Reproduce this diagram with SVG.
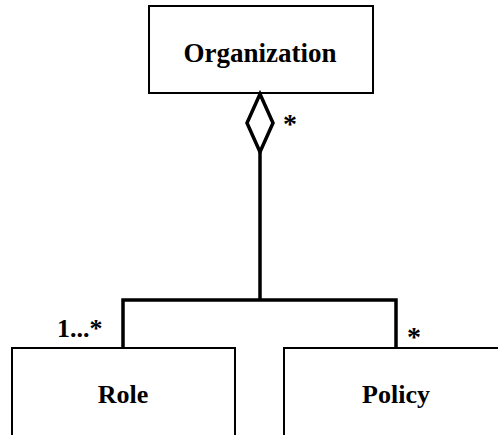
<svg xmlns="http://www.w3.org/2000/svg" width="498" height="435" viewBox="0 0 498 435">
<style>
.box{fill:#fff;stroke:#000;stroke-width:2}
.lbl{font-family:"Liberation Serif","Times New Roman",serif;font-weight:bold;font-size:26px;fill:#000}
.conn{fill:none;stroke:#000;stroke-width:3.5}
</style>
<rect width="498" height="435" fill="#fff"/>
<g id="organization">
<rect class="box" x="149" y="6" width="224" height="87"/>
<text class="lbl" x="260" y="62" text-anchor="middle" style="font-size:27px">Organization</text>
</g>
<g id="role">
<rect class="box" x="12" y="348" width="223" height="100"/>
<text class="lbl" x="123" y="403" text-anchor="middle">Role</text>
</g>
<g id="policy">
<rect class="box" x="284" y="348" width="223" height="100"/>
<text class="lbl" x="396" y="403" text-anchor="middle">Policy</text>
</g>
<g id="connectors">
<polygon points="260,94 273,123 260,152 247,123" fill="#fff" stroke="#000" stroke-width="3.5" stroke-linejoin="miter"/>
<path class="conn" d="M260,152 V300 M123,348 V300 H396 V348"/>
<text class="lbl" x="283" y="133" style="font-size:28px">*</text>
<text class="lbl" x="57" y="337">1...*</text>
<text class="lbl" x="407" y="346" style="font-size:28px">*</text>
</g>
</svg>
